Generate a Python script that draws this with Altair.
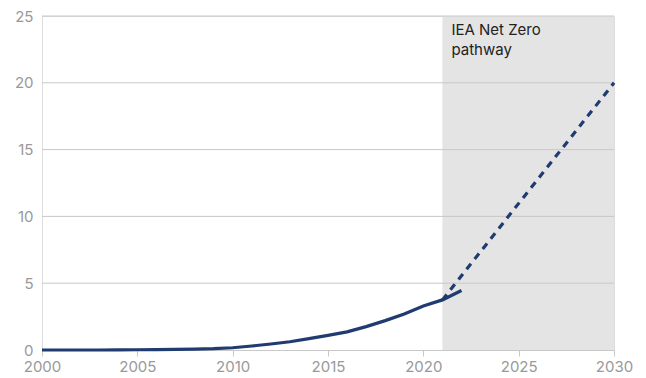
import altair as alt
import pandas as pd

years = list(range(2000, 2023))
values = [0.0, 0.0, 0.0, 0.0, 0.01, 0.02, 0.03, 0.05, 0.07, 0.1, 0.17,
          0.3, 0.45, 0.62, 0.85, 1.1, 1.36, 1.75, 2.2, 2.7, 3.3, 3.75, 4.45]
path_years = [2021, 2030]
path_values = [3.75, 20.0]
shade_start, shade_end = 2021, 2030
shade_top = 25
grid_values = [5, 10, 15, 20, 25]
label_lines = ["IEA Net Zero", "pathway"]

hist = pd.DataFrame({"year": years, "value": values})
path = pd.DataFrame({"year": path_years, "value": path_values})
shade = pd.DataFrame({"x": [shade_start], "x2": [shade_end], "y": [0], "y2": [shade_top]})
grid = pd.DataFrame({"v": grid_values})
label = pd.DataFrame({"x": [shade_start], "y": [shade_top], "t": [label_lines]})

font = "Inter"
xs = alt.Scale(domain=[2000, 2030], nice=False, zero=False)
ys = alt.Scale(domain=[0, 25], nice=False)

x_axis = alt.Axis(values=[2000, 2005, 2010, 2015, 2020, 2025, 2030], format="d",
                  grid=False, domainColor="#c8c8c8", tickColor="#c8c8c8", tickSize=6,
                  labelColor="#999999", labelFontSize=15, labelFont=font, labelPadding=3,
                  title=None, labelFlush=False)
y_axis = alt.Axis(values=[0, 5, 10, 15, 20, 25], grid=False, domain=False, ticks=False,
                  labelColor="#999999", labelFontSize=15, labelFont=font, labelPadding=9,
                  title=None)

rect = alt.Chart(shade).mark_rect(color="#e4e4e4").encode(
    x=alt.X("x:Q", scale=xs, axis=x_axis), x2="x2:Q",
    y=alt.Y("y:Q", scale=ys, axis=y_axis), y2="y2:Q")

rules = alt.Chart(grid).mark_rule(color="#c8c8c8", strokeWidth=1).encode(
    y=alt.Y("v:Q", scale=ys))

line_hist = alt.Chart(hist).mark_line(color="#1f3b70", strokeWidth=3.2).encode(
    x=alt.X("year:Q", scale=xs), y=alt.Y("value:Q", scale=ys))

line_path = alt.Chart(path).mark_line(color="#1f3b70", strokeWidth=3.2, strokeDash=[7, 6]).encode(
    x=alt.X("year:Q", scale=xs), y=alt.Y("value:Q", scale=ys))

text = alt.Chart(label).mark_text(align="left", baseline="top", dx=9, dy=7, fontSize=15,
                                  font=font, color="#222222", lineHeight=20).encode(
    x=alt.X("x:Q", scale=xs), y=alt.Y("y:Q", scale=ys), text="t")

chart = alt.layer(rect, rules, line_hist, line_path, text).properties(
    width=572, height=334,
    autosize=alt.AutoSizeParams(type="none"),
    padding={"left": 34, "top": 8, "right": 24, "bottom": 28},
).configure_view(stroke=None).configure(background="white")

chart.save("out.html", embed_options={"renderer": "svg", "actions": False})
